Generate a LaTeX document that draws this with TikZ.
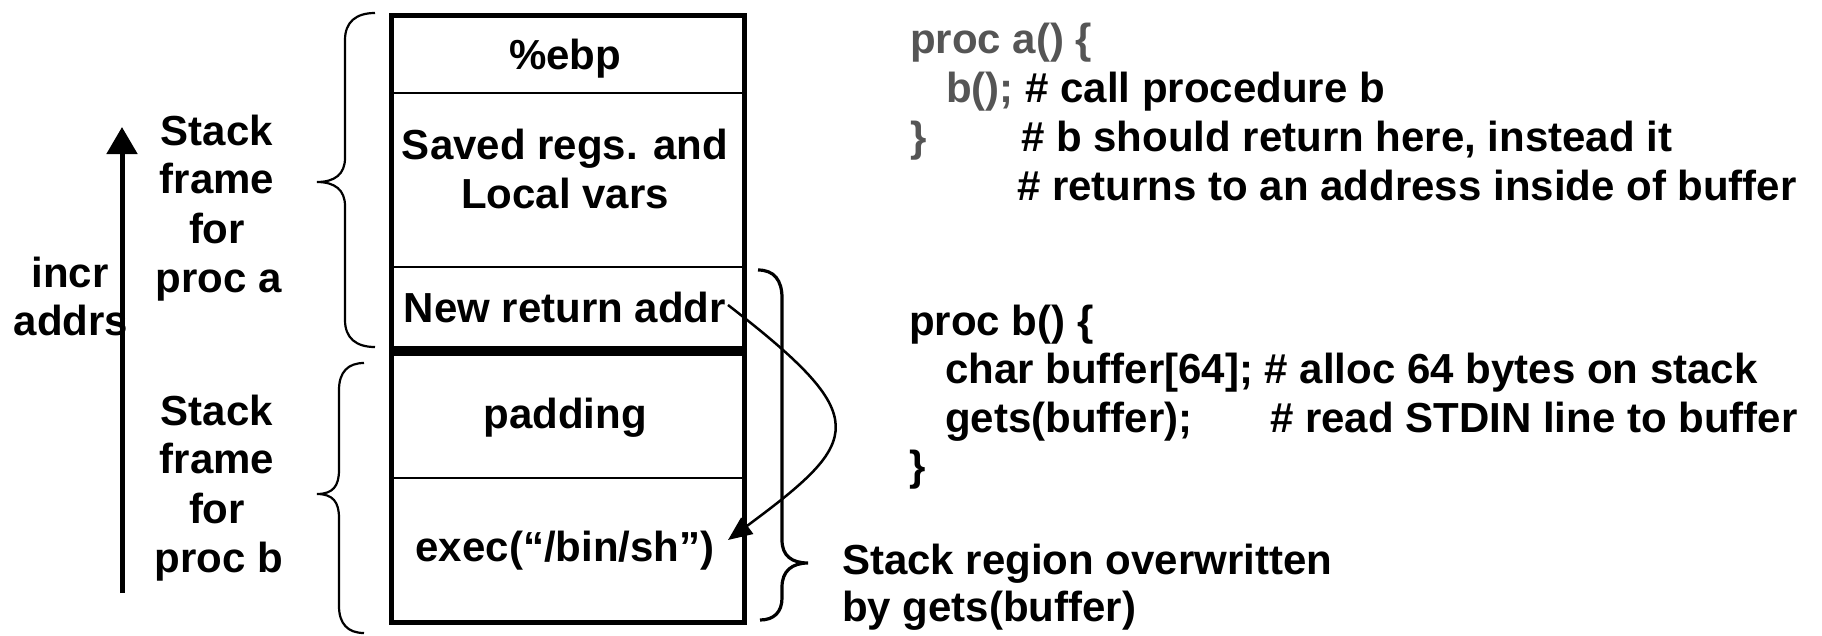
\documentclass[tikz,border=0pt]{standalone}
\usepackage{fontspec}
\setmainfont{Liberation Sans}
\usetikzlibrary{arrows.meta}
\definecolor{codegray}{RGB}{85,85,85}
\begin{document}
\begin{tikzpicture}[x=1pt,y=-1pt,
  lbl/.style={inner sep=0pt, font=\bfseries\fontsize{42}{49}\selectfont, anchor=base},
  lbll/.style={lbl, anchor=base west},
  frm/.style={draw, line width=5pt, inner sep=0pt, anchor=north west},
  sepline/.style={line width=2pt},
  brc/.style={line width=2.2pt},
  brcr/.style={line width=3.2pt},
  conn/.style={line width=2.5pt, -{Triangle[length=24pt,width=20pt]}}
]
\fill[white] (0,0) rectangle (1822,635);
\useasboundingbox (0,0) rectangle (1822,635);

% stack frames
\node[frm, minimum width=353pt, minimum height=333pt] (frameA) at (389,13) {};
\node[frm, minimum width=353pt, minimum height=269pt] (frameB) at (389,351) {};
\draw[sepline] (389,93) -- (742,93);
\draw[sepline] (389,267) -- (742,267);
\draw[sepline] (389,478) -- (742,478);

% cell texts
\node[lbl] (ebp) at (565,69) {\%ebp};
\node[lbl] (saved1) at (565,159) {Saved regs. and};
\node[lbl] (saved2) at (565,208) {Local vars};
\node[lbl] (newret) at (565,322) {New return addr};
\node[lbl] (padding) at (565,428) {padding};
\node[lbl] (exec) at (565,561) {exec(“/bin/sh”)};

% left braces
\draw[brc] (375,13) .. controls (356,13) and (345,22) .. (345,40) -- (345,158)
  .. controls (345,174) and (335,182) .. (317,182)
  .. controls (335,182) and (345,190) .. (345,206) -- (345,320)
  .. controls (345,338) and (356,347) .. (375,347);
\draw[brc] (364,363) .. controls (348,363) and (339,372) .. (339,390) -- (339,470)
  .. controls (339,486) and (333,494) .. (317,494)
  .. controls (333,494) and (339,502) .. (339,518) -- (339,606)
  .. controls (339,624) and (348,633) .. (364,633);

% right brace
\draw[brcr] (758,270) .. controls (774,270) and (782,280) .. (782,298) -- (782,540)
  .. controls (782,556) and (792,563) .. (808,563)
  .. controls (792,563) and (782,571) .. (782,587) -- (782,598)
  .. controls (782,612) and (774,620) .. (760,620);

% increasing address arrow
\coordinate (incrBot) at (122,593);
\coordinate (incrTop) at (122,127);
\draw[line width=5pt, -{Triangle[length=27pt,width=30pt]}] (incrBot) -- (incrTop);
\node[lbl] (incr) at (70,287) {incr};
\node[lbl] (addrs) at (71,335) {addrs};

% frame labels
\node[lbl] (sa1) at (217,145) {Stack};
\node[lbl] (sa2) at (217,193) {frame};
\node[lbl] (sa3) at (217,243) {for};
\node[lbl] (sa4) at (219,292) {proc a};
\node[lbl] (sb1) at (217,425) {Stack};
\node[lbl] (sb2) at (217,473) {frame};
\node[lbl] (sb3) at (217,523) {for};
\node[lbl] (sb4) at (219,572) {proc b};

% return arrow
\coordinate (arrS) at (728,305);
\coordinate (arrE) at (728,540);
\draw[conn] (arrS) .. controls (874,418) and (863,440) .. (arrE);

% code for proc a
\node[lbll, text=codegray] (pa1) at (910,53) {proc a() \{};
\node[lbll] (pa2) at (946,102) {\textcolor{codegray}{b();} \# call procedure b};
\node[lbll, text=codegray] (pa3) at (910,151) {\}};
\node[lbll] (pa3c) at (1021,151) {\# b should return here, instead it};
\node[lbll] (pa4) at (1017,200) {\# returns to an address inside of buffer};

% code for proc b
\node[lbll] (pb1) at (909,335) {proc b() \{};
\node[lbll] (pb2) at (945,383) {char buffer[64]; \# alloc 64 bytes on stack};
\node[lbll] (pb3) at (945,432) {gets(buffer);};
\node[lbll] (pb3c) at (1270,432) {\# read STDIN line to buffer};
\node[lbll] (pb4) at (909,480) {\}};

% overwritten label
\node[lbll] (ov1) at (842,574) {Stack region overwritten};
\node[lbll] (ov2) at (842,621) {by gets(buffer)};
\end{tikzpicture}
\end{document}
